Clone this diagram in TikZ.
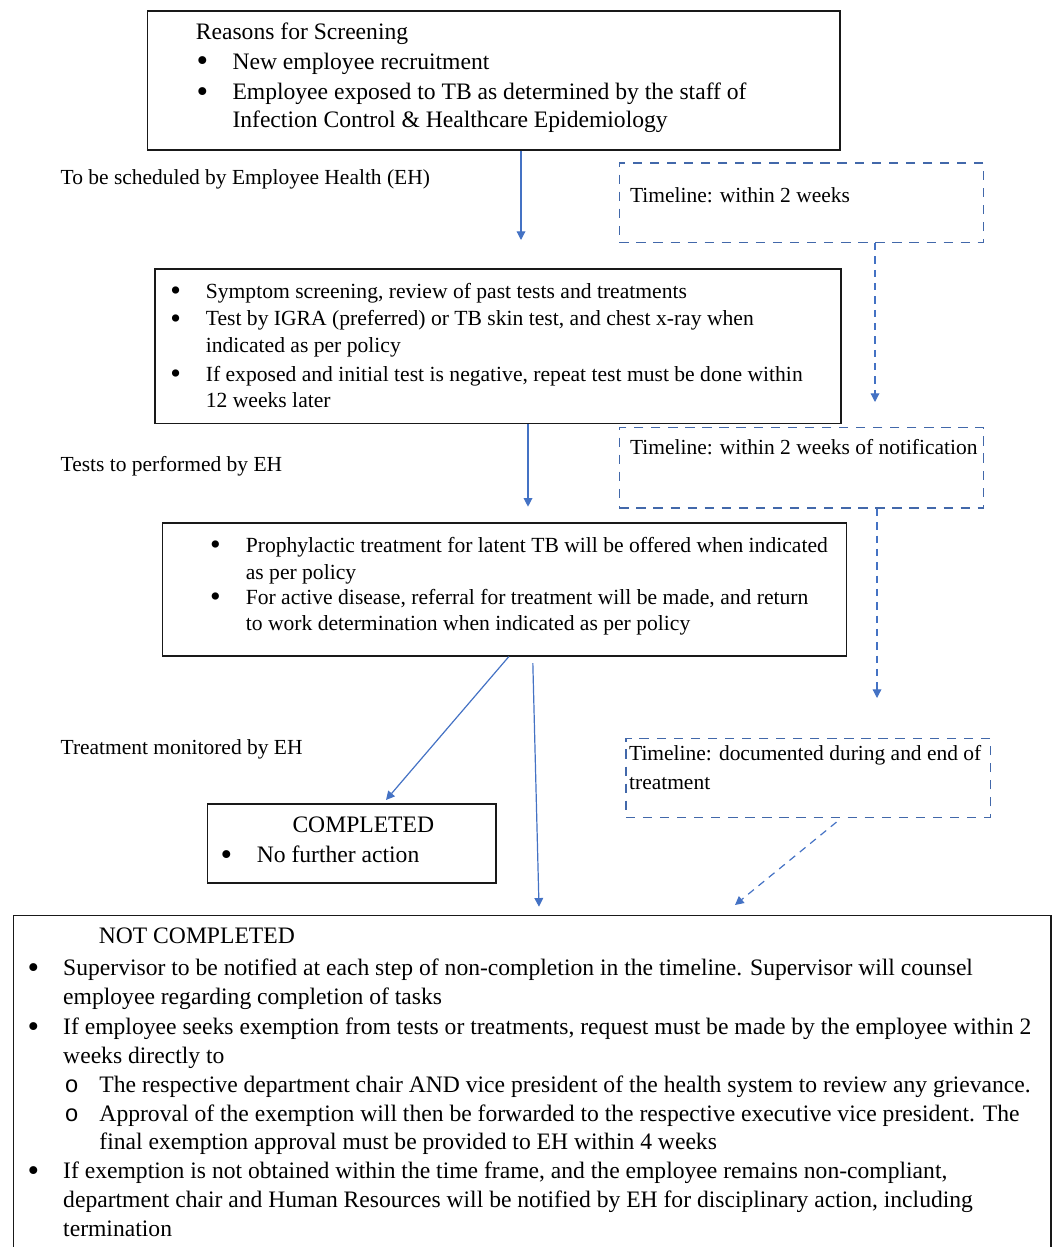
\documentclass[tikz,border=0pt]{standalone}
\usepackage{fontspec}
\usepackage{graphicx}
\setmainfont{Liberation Serif}
\newfontfamily\monofont{Liberation Mono}
\usetikzlibrary{positioning, arrows.meta}
\definecolor{FlowBlue}{RGB}{68,114,196}
\definecolor{TimelineBlue}{RGB}{66,104,170}
\newcommand{\boxtext}[3]{\makebox[#1][l]{\hspace*{#2}\begin{tabular}[t]{@{}l@{}l@{}}#3\end{tabular}}}
\newcommand{\bul}[2]{\makebox[#1][l]{\hspace*{#2}\raisebox{-0.11em}{\scalebox{1.4}{\textbullet}}}}
\newcommand{\subbul}{\makebox[27.2pt][l]{\hspace*{1pt}{\monofont o}}}
\tikzstyle{flowbox} = [rectangle, draw=black!90, line width=1.2pt, inner sep=0pt, anchor=north west]
\tikzstyle{timebox} = [rectangle, draw=TimelineBlue, line width=1.2pt, dash pattern=on 7pt off 5.8pt, inner sep=0pt, anchor=north west, font=\fontsize{16.1pt}{21.2pt}\selectfont]
\tikzstyle{flowarrow} = [FlowBlue, line width=0.9pt, -{Triangle[length=6.5pt,width=6.5pt]}]
\tikzstyle{timearrow} = [flowarrow, dash pattern=on 5.5pt off 4.5pt]
\tikzstyle{note} = [anchor=base west, inner sep=0pt, font=\fontsize{16.1pt}{19pt}\selectfont]

\begin{document}
\begin{tikzpicture}[x=0.75pt, y=-0.75pt]
  \useasboundingbox (0,0) rectangle (1052,1247);
  \clip (0,0) rectangle (1052,1247);

  % Reasons for screening
  \node[flowbox, text height=21.4pt, text depth=82.85pt, font=\fontsize{17.7pt}{20.6pt}\selectfont] (reasons) at (146.5,10)
    {\boxtext{519.4pt}{36.4pt}{%
      \multicolumn{2}{@{}l@{}}{Reasons for Screening}\\[1.9pt]
      \bul{27.5pt}{0.5pt} & New employee recruitment\\[2.3pt]
      \bul{27.5pt}{0.5pt} & Employee exposed to TB as determined by the staff of\\
      & Infection Control \& Healthcare Epidemiology}};
  \node[note] (lab1) at (60.4,184) {To be scheduled by Employee Health (EH)};

  % Timeline boxes
  \node[timebox, text height=29.5pt, text depth=29.9pt] (t1) at (618.5,162.3)
    {\boxtext{273.2pt}{8.1pt}{Timeline: within 2 weeks}};
  \node[timebox, text height=20.5pt, text depth=39.95pt] (t2) at (618.5,426.7)
    {\boxtext{273.2pt}{8.1pt}{Timeline: within 2 weeks of notification}};
  \node[timebox, text height=16.9pt, text depth=42.35pt] (t3) at (625,737.5)
    {\boxtext{273.4pt}{2.5pt}{Timeline: documented during and end of\\ treatment}};

  % Screening and tests
  \node[flowbox, text height=21.75pt, text depth=94.05pt, font=\fontsize{16.2pt}{19.9pt}\selectfont] (screen) at (154,268.3)
    {\boxtext{514.7pt}{12.4pt}{%
      \bul{25.9pt}{-0.8pt} & Symptom screening, review of past tests and treatments\\[0.9pt]
      \bul{25.9pt}{-0.8pt} & Test by IGRA (preferred) or TB skin test, and chest x-ray when\\
      & indicated as per policy\\[1.85pt]
      \bul{25.9pt}{-0.8pt} & If exposed and initial test is negative, repeat test must be done within\\[-0.4pt]
      & 12 weeks later}};
  \node[note] (lab2) at (60.4,471) {Tests to performed by EH};

  % Treatment
  \node[flowbox, text height=22.05pt, text depth=77.45pt, font=\fontsize{16.2pt}{19.95pt}\selectfont] (treat) at (161.7,522.3)
    {\boxtext{512.9pt}{36.6pt}{%
      \bul{25.9pt}{-0.8pt} & Prophylactic treatment for latent TB will be offered when indicated\\
      & as per policy\\[-1.2pt]
      \bul{25.9pt}{-0.8pt} & For active disease, referral for treatment will be made, and return\\
      & to work determination when indicated as per policy}};
  \node[note] (lab3) at (60.4,754) {Treatment monitored by EH};

  % Outcomes
  \node[flowbox, text height=21.3pt, text depth=37.95pt, font=\fontsize{17.7pt}{22.5pt}\selectfont] (done) at (206.7,803.3)
    {\boxtext{216.2pt}{10.65pt}{%
      \multicolumn{2}{@{}l@{}}{\hspace*{53.1pt}COMPLETED}\\
      \bul{26.3pt}{-0.8pt} & No further action}};
  \node[flowbox, text height=21.4pt, text depth=239.2pt, font=\fontsize{17.7pt}{21.6pt}\selectfont] (notdone) at (12.5,914.5)
    {\boxtext{778.1pt}{11.55pt}{%
      \multicolumn{2}{@{}l@{}}{\hspace*{52.6pt}NOT COMPLETED}\\[2.4pt]
      \bul{25.9pt}{-0.8pt} & Supervisor to be notified at each step of non-completion in the timeline. Supervisor will counsel\\
      & employee regarding completion of tasks\\[0.9pt]
      \bul{25.9pt}{-0.8pt} & If employee seeks exemption from tests or treatments, request must be made by the employee within 2\\
      & weeks directly to\\
      & \subbul The respective department chair AND vice president of the health system to review any grievance.\\
      & \subbul Approval of the exemption will then be forwarded to the respective executive vice president. The\\
      & \hspace*{27.2pt}final exemption approval must be provided to EH within 4 weeks\\
      \bul{25.9pt}{-0.8pt} & If exemption is not obtained within the time frame, and the employee remains non-compliant,\\
      & department chair and Human Resources will be notified by EH for disciplinary action, including\\
      & termination}};

  % Flow arrows
  \coordinate (tip1) at (521,240);
  \draw[flowarrow] (reasons.south -| tip1) -- (tip1);
  \coordinate (tip2) at (528,506.7);
  \draw[flowarrow] (screen.south -| tip2) -- (tip2);
  \coordinate (tip3) at (386,800);
  \draw[flowarrow] ([xshift=3.3pt]treat.south) -- (tip3);
  \coordinate (tip4) at (539,906.7);
  \draw[flowarrow] ([xshift=21.3pt,yshift=-5pt]treat.south) -- (tip4);

  % Timeline arrows
  \coordinate (dtip1) at (875,402);
  \draw[timearrow] (t1.south -| dtip1) -- (dtip1);
  \coordinate (dtip2) at (877,698);
  \draw[timearrow] (t2.south -| dtip2) -- (dtip2);
  \coordinate (dtip3) at (735,905);
  \draw[timearrow] ([xshift=21.3pt,yshift=-3pt]t3.south) -- (dtip3);
\end{tikzpicture}
\end{document}
